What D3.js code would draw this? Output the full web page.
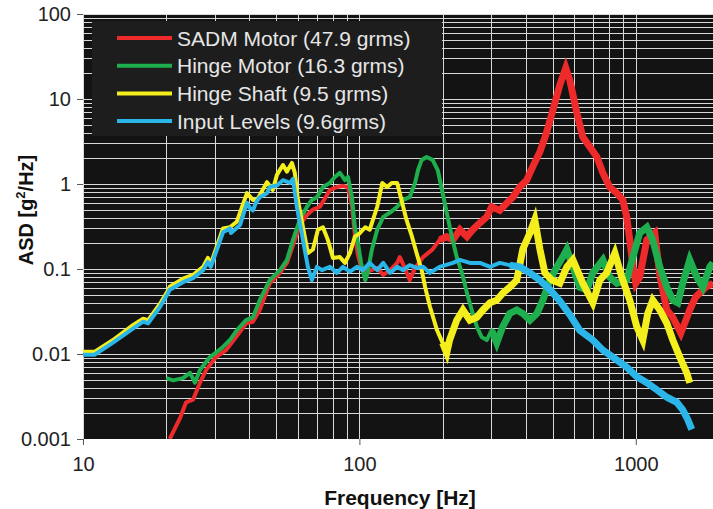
<!DOCTYPE html>
<html>
<head>
<meta charset="utf-8">
<script src="https://cdn.jsdelivr.net/npm/d3@7"></script>
<style>
  body { margin: 0; background: #fff; }
  text { font-family: "Liberation Sans", Arial, sans-serif; }
</style>
</head>
<body>
<div id="chart"></div>
<script>
var svgWidth = 713;
var svgHeight = 509;

// tick labels
var xTicks = [10, 100, 1000];
var yTicks = [0.001, 0.01, 0.1, 1, 10, 100];

var seriesNames = ["SADM Motor (47.9 grms)", "Hinge Motor (16.3 grms)", "Hinge Shaft (9.5 grms)", "Input Levels (9.6grms)"];
var seriesColors = ["#ee2a2a", "#1fae4e", "#f4ee1c", "#2bb6ea"];
// above these frequencies the measured traces get noisy and look like wide bands
var noisyFrom = [190, 290, 200, 340];

// [frequency Hz, ASD g^2/Hz]
var sadmMotor = [
  [20.6, 0.001], [22.5, 0.0018], [23.6, 0.0027], [25.0, 0.0029], [26.5, 0.0046], [27.9, 0.0065],
  [30.3, 0.0092], [32.9, 0.0111], [35.8, 0.0158], [38.9, 0.023], [41.2, 0.024], [43.6, 0.033],
  [47.4, 0.068], [51.6, 0.09], [54.7, 0.118], [57.5, 0.19], [60.9, 0.33], [64.6, 0.43],
  [67.9, 0.5], [72.0, 0.54], [78.2, 0.85], [82.9, 0.92], [87.2, 0.95], [90.9, 0.92],
  [94.0, 0.57], [96.3, 0.25], [98.8, 0.146], [102, 0.097], [107, 0.093], [116, 0.103],
  [122, 0.085], [129, 0.097], [137, 0.118], [140, 0.138], [146, 0.103], [152, 0.074],
  [159, 0.103], [170, 0.138], [184, 0.17], [195, 0.22], [207, 0.24], [218, 0.22],
  [231, 0.29], [245, 0.24], [257, 0.29], [273, 0.35], [289, 0.41], [301, 0.54],
  [322, 0.49], [342, 0.6], [359, 0.7], [380, 0.92], [403, 1.11], [424, 1.6],
  [450, 2.4], [473, 3.8], [501, 7.4], [531, 14.6], [558, 23.2], [577, 16.7],
  [612, 6.84], [643, 3.57], [682, 2.72], [723, 2.08], [760, 1.35], [805, 0.92],
  [854, 0.78], [897, 0.65], [927, 0.41], [951, 0.22], [976, 0.11], [1000, 0.068],
  [1033, 0.08], [1096, 0.22], [1171, 0.265], [1221, 0.085], [1295, 0.033], [1361, 0.027],
  [1455, 0.0177], [1510, 0.024], [1567, 0.033], [1648, 0.047], [1791, 0.061], [1900, 0.068]
];

var hingeMotor = [
  [20, 0.0052], [21.2, 0.0049], [23.0, 0.0052], [24.4, 0.006], [25.4, 0.0046], [26.5, 0.0065],
  [28.8, 0.0092], [30.5, 0.0106], [32.1, 0.0121], [34.0, 0.0146], [36.0, 0.019], [38.9, 0.025],
  [41.2, 0.027], [43.6, 0.043], [47.4, 0.074], [51.6, 0.097], [54.7, 0.128], [57.5, 0.22],
  [60.9, 0.38], [64.6, 0.54], [67.3, 0.65], [70.2, 0.7], [73.8, 0.92], [78.2, 1.03],
  [81.5, 1.21], [85.0, 1.35], [88.7, 1.11], [90.9, 1.21], [94.0, 0.7], [96.3, 0.31],
  [98.8, 0.2], [102, 0.106], [105, 0.074], [107, 0.09], [111, 0.17], [116, 0.29],
  [122, 0.41], [129, 0.46], [137, 0.54], [144, 0.65], [152, 0.7], [159, 1.03],
  [163, 1.46], [168, 1.92], [175, 2.08], [184, 1.92], [192, 1.46], [199, 0.85],
  [207, 0.46], [216, 0.24], [225, 0.138], [235, 0.09], [245, 0.052], [255, 0.033],
  [266, 0.021], [277, 0.0158], [289, 0.0146], [301, 0.019], [314, 0.0135], [330, 0.021],
  [350, 0.03], [371, 0.033], [390, 0.03], [414, 0.025], [439, 0.03], [461, 0.043],
  [489, 0.074], [518, 0.106], [544, 0.138], [563, 0.17], [592, 0.106], [627, 0.061],
  [665, 0.057], [699, 0.09], [760, 0.128], [805, 0.08], [854, 0.068], [927, 0.074],
  [976, 0.138], [1033, 0.265], [1096, 0.31], [1152, 0.22], [1221, 0.106], [1295, 0.061],
  [1361, 0.043], [1419, 0.04], [1479, 0.068], [1567, 0.128], [1663, 0.08], [1748, 0.061],
  [1852, 0.106], [1900, 0.118]
];

var hingeShaft = [
  [10, 0.0106], [11, 0.0106], [12.8, 0.0145], [15.2, 0.022], [16.5, 0.026], [17.2, 0.025],
  [19.0, 0.039], [20.3, 0.056], [20.6, 0.062], [23.0, 0.077], [25.0, 0.085], [27.2, 0.106],
  [28.3, 0.135], [29.0, 0.115], [32.1, 0.3], [34.0, 0.31], [36.0, 0.36], [39.2, 0.78],
  [41.2, 0.65], [42.6, 0.65], [46.3, 1.05], [48.6, 0.85], [50.3, 1.28], [52.9, 1.67],
  [54.7, 1.4], [57.0, 1.77], [58.4, 1.35], [59.9, 0.65], [62.5, 0.31], [65.1, 0.154],
  [67.9, 0.17], [70.8, 0.29], [73.8, 0.31], [76.9, 0.22], [80.2, 0.135], [85.0, 0.138],
  [88.7, 0.118], [92.4, 0.154], [96.3, 0.24], [100.5, 0.265], [105, 0.31], [109, 0.29],
  [116, 0.54], [121, 1.03], [126, 0.92], [131, 1.03], [137, 1.03], [142, 0.65],
  [148, 0.38], [155, 0.24], [161, 0.154], [168, 0.097], [173, 0.061], [180, 0.036],
  [191, 0.019], [200, 0.0135], [207, 0.0103], [212, 0.0146], [225, 0.025], [237, 0.033],
  [251, 0.025], [266, 0.027], [280, 0.033], [297, 0.04], [314, 0.043], [330, 0.052],
  [350, 0.061], [371, 0.074], [390, 0.17], [414, 0.265], [431, 0.38], [450, 0.17],
  [469, 0.09], [497, 0.074], [531, 0.068], [563, 0.106], [592, 0.128], [643, 0.068],
  [699, 0.04], [741, 0.074], [785, 0.09], [840, 0.154], [890, 0.08], [951, 0.043],
  [1008, 0.021], [1060, 0.0146], [1105, 0.03], [1152, 0.043], [1221, 0.033], [1295, 0.023],
  [1361, 0.0146], [1443, 0.0092], [1529, 0.006], [1567, 0.0046]
];

var inputLevels = [
  [10, 0.0098], [11, 0.0098], [12.8, 0.0135], [15.2, 0.02], [16.5, 0.024], [17.2, 0.023],
  [19.0, 0.036], [20.3, 0.052], [20.6, 0.057], [23.0, 0.07], [25.0, 0.078], [27.2, 0.097],
  [28.3, 0.121], [29.0, 0.106], [32.1, 0.27], [34.0, 0.3], [34.3, 0.265], [37.0, 0.33],
  [39.2, 0.6], [40.2, 0.52], [41.2, 0.49], [42.3, 0.61], [43.6, 0.7], [46.3, 0.78],
  [47.4, 0.92], [50.3, 0.96], [52.9, 1.11], [56.1, 1.03], [57.5, 1.15], [59.4, 0.54],
  [62.5, 0.22], [65.1, 0.106], [67.3, 0.074], [70.2, 0.106], [73.2, 0.097], [78.2, 0.106],
  [82.9, 0.09], [87.2, 0.106], [92.4, 0.093], [98, 0.106], [103, 0.097], [109, 0.118],
  [116, 0.097], [122, 0.118], [129, 0.09], [137, 0.106], [144, 0.097], [152, 0.111],
  [161, 0.103], [170, 0.106], [180, 0.09], [195, 0.106], [218, 0.118], [231, 0.128],
  [251, 0.118], [273, 0.118], [297, 0.106], [322, 0.118], [350, 0.111], [380, 0.106],
  [414, 0.09], [450, 0.074], [489, 0.057], [531, 0.042], [577, 0.029], [627, 0.019],
  [699, 0.0146], [760, 0.0111], [826, 0.0092], [927, 0.007], [1008, 0.0054], [1096, 0.0046],
  [1191, 0.0038], [1295, 0.0031], [1407, 0.0027], [1479, 0.0022], [1541, 0.0017], [1594, 0.0013]
];

var allSeries = [sadmMotor, hingeMotor, hingeShaft, inputLevels];

var plot = { left: 83, top: 14, right: 719, bottom: 439 };

var svg = d3.select("#chart")
    .append("svg")
    .attr("width", svgWidth)
    .attr("height", svgHeight);

var xScale = d3.scaleLog().domain([10, 2000]).range([plot.left, plot.right]);
var yScale = d3.scaleLog().domain([0.001, 100]).range([plot.bottom, plot.top]);

svg.append("defs").append("clipPath").attr("id", "clip")
    .append("rect")
    .attr("x", plot.left).attr("y", plot.top - 2)
    .attr("width", plot.right - plot.left).attr("height", plot.bottom - plot.top + 2);

svg.append("rect")
    .attr("x", plot.left).attr("y", plot.top)
    .attr("width", plot.right - plot.left).attr("height", plot.bottom - plot.top)
    .attr("fill", "#131313");

// grid values: 1..9 of every decade
var xGrid = [];
[10, 100, 1000].forEach(function(d) {
    for (var m = 1; m <= 9; m++) if (d * m <= 2000) xGrid.push(d * m);
});
xGrid.push(2000);
var yGrid = [];
[0.001, 0.01, 0.1, 1, 10].forEach(function(d) {
    for (var m = 1; m <= 9; m++) yGrid.push(d * m);
});
yGrid.push(100);

var grid = svg.append("g").attr("clip-path", "url(#clip)");
grid.selectAll(".hg").data(yGrid).enter().append("line")
    .attr("x1", plot.left).attr("x2", plot.right)
    .attr("y1", d => Math.round(yScale(d)) + 0.5).attr("y2", d => Math.round(yScale(d)) + 0.5)
    .attr("stroke", "#d9d9d9").attr("stroke-width", 1);
grid.selectAll(".vg").data(xGrid).enter().append("line")
    .attr("y1", plot.top).attr("y2", plot.bottom)
    .attr("x1", d => Math.round(xScale(d)) + 0.5).attr("x2", d => Math.round(xScale(d)) + 0.5)
    .attr("stroke", "#d9d9d9").attr("stroke-width", 1);

// axes
var xAxis = d3.axisBottom(xScale).tickValues(xTicks).tickFormat(d3.format("d")).tickSize(6).tickPadding(12);
var yAxis = d3.axisLeft(yScale).tickValues(yTicks).tickFormat(d => d < 1 ? d.toString() : d3.format("d")(d)).tickSize(6).tickPadding(6);

var gx = svg.append("g").attr("transform", `translate(0, ${plot.bottom})`).call(xAxis);
var gy = svg.append("g").attr("transform", `translate(${plot.left}, 0)`).call(yAxis);
[gx, gy].forEach(function(g) {
    g.select(".domain").remove();
    g.selectAll(".tick line").attr("stroke", "#555");
    g.selectAll("text").attr("font-size", 20).attr("fill", "#222")
        .style("font-family", "'Liberation Sans', Arial, sans-serif");
});

// lines
var line = d3.line().x(d => xScale(d[0])).y(d => yScale(d[1]));
var lines = svg.append("g").attr("clip-path", "url(#clip)");
allSeries.forEach(function(s, i) {
    lines.append("path")
        .datum(s)
        .attr("d", line)
        .attr("fill", "none")
        .attr("stroke", seriesColors[i])
        .attr("stroke-width", 4)
        .attr("stroke-linejoin", "round");
    // wider band for the noisy upper part of the trace
    lines.append("path")
        .datum(s.filter(d => d[0] >= noisyFrom[i]))
        .attr("d", line)
        .attr("fill", "none")
        .attr("stroke", seriesColors[i])
        .attr("stroke-width", 7)
        .attr("stroke-linejoin", "miter");
});

// legend
var legend = svg.append("g");
legend.append("rect")
    .attr("x", 92).attr("y", 21).attr("width", 350).attr("height", 115)
    .attr("fill", "#1d1d1d");
seriesNames.forEach(function(name, i) {
    var y = 38 + i * 27.7;
    legend.append("line")
        .attr("x1", 117).attr("x2", 172).attr("y1", y).attr("y2", y)
        .attr("stroke", seriesColors[i]).attr("stroke-width", 4);
    legend.append("text")
        .attr("x", 177).attr("y", y).attr("dy", "0.36em")
        .attr("font-size", 21).attr("fill", "#e6e6e6")
        .text(name);
});

// axis titles
svg.append("text")
    .attr("x", 400).attr("y", 505)
    .attr("text-anchor", "middle")
    .attr("font-size", 21).attr("font-weight", "bold").attr("fill", "#111")
    .text("Frequency [Hz]");

var yTitle = svg.append("text")
    .attr("transform", "translate(33, 210) rotate(-90)")
    .attr("text-anchor", "middle")
    .attr("font-size", 20).attr("font-weight", "bold").attr("fill", "#111");
yTitle.append("tspan").text("ASD [g");
yTitle.append("tspan").attr("font-size", 13).attr("dy", -8).text("2");
yTitle.append("tspan").attr("dy", 8).text("/Hz]");
</script>
</body>
</html>
